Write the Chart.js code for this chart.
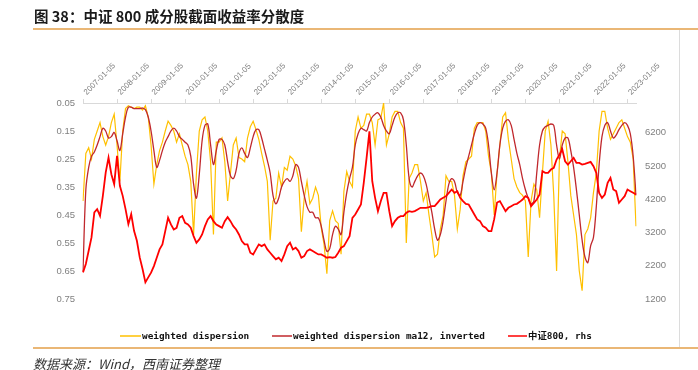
<!doctype html>
<html>
<head>
<meta charset="utf-8" />
<script src="https://cdn.jsdelivr.net/npm/chart.js@4.4.1/dist/chart.umd.min.js"></script>
<style>
  html, body { margin: 0; padding: 0; background: #fff; }
  #wrap { position: relative; width: 698px; height: 370px; }
</style>
</head>
<body>
<div id="wrap"><canvas id="c" width="698" height="370"></canvas></div>
<script>
  // monthly readings, 2007-01 .. 2023-04 (one row per year)
  const dispersion = [
    0.40, 0.23, 0.21, 0.25, 0.18, 0.15, 0.12, 0.17, 0.20, 0.17, 0.12, 0.09,
    0.20, 0.33, 0.15, 0.07, 0.06, 0.065, 0.07, 0.065, 0.065, 0.075, 0.06, 0.10,
    0.20, 0.34, 0.27, 0.22, 0.19, 0.15, 0.115, 0.13, 0.15, 0.19, 0.16, 0.20,
    0.24, 0.27, 0.33, 0.52, 0.30, 0.15, 0.11, 0.10, 0.15, 0.26, 0.52, 0.19,
    0.19, 0.175, 0.26, 0.40, 0.30, 0.20, 0.175, 0.245, 0.25, 0.26, 0.175, 0.135,
    0.115, 0.145, 0.18, 0.23, 0.275, 0.33, 0.54, 0.40, 0.39, 0.30, 0.35, 0.28,
    0.29, 0.24, 0.25, 0.275, 0.32, 0.51, 0.39, 0.33, 0.41, 0.39, 0.35, 0.38,
    0.495, 0.555, 0.66, 0.47, 0.435, 0.47, 0.48, 0.59, 0.365, 0.295, 0.33, 0.35,
    0.15, 0.10, 0.14, 0.13, 0.09, 0.09, 0.12, 0.20, 0.11, 0.105, 0.05, 0.20,
    0.16, 0.10, 0.08, 0.08, 0.12, 0.14, 0.55, 0.32, 0.30, 0.27, 0.27, 0.33,
    0.40, 0.37, 0.45, 0.52, 0.60, 0.59, 0.50, 0.45, 0.31, 0.33, 0.33, 0.38,
    0.50, 0.43, 0.31, 0.26, 0.25, 0.24, 0.14, 0.12, 0.12, 0.12, 0.15, 0.24,
    0.30, 0.45, 0.30, 0.20, 0.10, 0.085, 0.18, 0.25, 0.32, 0.35, 0.37, 0.38,
    0.40, 0.60, 0.40, 0.34, 0.36, 0.46, 0.30, 0.15, 0.115, 0.20, 0.38, 0.65,
    0.25, 0.15, 0.16, 0.26, 0.38, 0.45, 0.52, 0.65, 0.72, 0.52, 0.50, 0.46,
    0.37, 0.30, 0.15, 0.08, 0.08, 0.14, 0.18, 0.16, 0.14, 0.12, 0.11, 0.14,
    0.17, 0.19, 0.25, 0.49
  ];

  const dispersionMa12 = [
    0.65, 0.36, 0.28, 0.24, 0.225, 0.20, 0.17, 0.14, 0.15, 0.175, 0.17, 0.155,
    0.185, 0.22, 0.16, 0.10, 0.065, 0.065, 0.07, 0.07, 0.07, 0.068, 0.074, 0.10,
    0.15, 0.22, 0.28, 0.255, 0.22, 0.19, 0.17, 0.15, 0.14, 0.15, 0.17, 0.18,
    0.19, 0.20, 0.24, 0.34, 0.39, 0.305, 0.185, 0.13, 0.125, 0.20, 0.27, 0.22,
    0.18, 0.18, 0.20, 0.26, 0.31, 0.32, 0.29, 0.23, 0.21, 0.23, 0.245, 0.21,
    0.17, 0.145, 0.145, 0.175, 0.215, 0.255, 0.30, 0.38, 0.41, 0.39, 0.35, 0.33,
    0.32, 0.33, 0.31, 0.27, 0.28, 0.33, 0.38, 0.42, 0.44, 0.44, 0.46, 0.46,
    0.49, 0.54, 0.58, 0.57, 0.52, 0.49, 0.50, 0.52, 0.44, 0.37, 0.32, 0.28,
    0.20, 0.16, 0.14, 0.145, 0.15, 0.12, 0.10, 0.09, 0.085, 0.10, 0.13, 0.15,
    0.16, 0.13, 0.10, 0.085, 0.085, 0.11, 0.20, 0.32, 0.35, 0.33, 0.31, 0.30,
    0.31, 0.34, 0.39, 0.44, 0.50, 0.54, 0.52, 0.47, 0.40, 0.34, 0.32, 0.33,
    0.37, 0.38, 0.33, 0.28, 0.24, 0.20, 0.16, 0.13, 0.12, 0.125, 0.14, 0.20,
    0.30, 0.36, 0.30, 0.20, 0.14, 0.115, 0.11, 0.13, 0.18, 0.23, 0.27, 0.32,
    0.36, 0.39, 0.41, 0.40, 0.30, 0.20, 0.15, 0.135, 0.13, 0.125, 0.13, 0.20,
    0.25, 0.20, 0.175, 0.175, 0.22, 0.28, 0.36, 0.45, 0.54, 0.60, 0.62, 0.56,
    0.53, 0.42, 0.27, 0.17, 0.13, 0.12, 0.15, 0.175, 0.165, 0.145, 0.13, 0.12,
    0.13, 0.16, 0.24, 0.38
  ];

  const csi800 = [
    2000, 2250, 2650, 3050, 3800, 3900, 3700, 4300, 5000, 5450, 4950, 4650,
    5500, 4600, 4300, 3900, 3450, 3750, 3250, 2950, 2450, 2100, 1700, 1850,
    1990, 2190, 2440, 2690, 2840, 3240, 3640, 3440, 3290, 3340, 3640, 3690,
    3490, 3440, 3340, 3090, 2890, 2990, 3140, 3390, 3590, 3690, 3540, 3440,
    3390, 3340, 3540, 3660, 3540, 3390, 3290, 3140, 2940, 2840, 2840, 2590,
    2540, 2690, 2840, 2790, 2840, 2690, 2590, 2490, 2390, 2440, 2340, 2540,
    2790, 2890, 2690, 2740, 2640, 2440, 2490, 2640, 2690, 2640, 2590, 2540,
    2540, 2490, 2440, 2460, 2440, 2460, 2590, 2740, 2790, 2940, 3090, 3640,
    3740, 3890, 4040, 4690, 5440, 6240, 4740, 4240, 3840, 4140, 4390, 4390,
    3840, 3390, 3540, 3640, 3690, 3690, 3790, 3840, 3820, 3840, 3890, 3940,
    3940, 3940, 3960, 3990, 3990, 4090, 4190, 4240, 4290, 4390, 4490, 4390,
    4440, 4240, 4140, 4060, 4040, 3890, 3740, 3590, 3540, 3390, 3340, 3240,
    3240, 3600, 4100, 4140, 3990, 3840, 3940, 3990, 4040, 4060, 4120, 4190,
    4290, 4240, 3990, 4090, 4190, 4340, 5040, 4990, 4990, 5090, 5140, 5390,
    5540, 5700, 5340, 5240, 5340, 5440, 5290, 5290, 5240, 5260, 5290, 5320,
    5190, 4990, 4390, 4240, 4340, 4690, 4840, 4490, 4440, 4090, 4190, 4290,
    4490, 4440, 4390, 4340
  ];

  const leftTicks = [0.05, 0.15, 0.25, 0.35, 0.45, 0.55, 0.65, 0.75];
  const rightTicks = [1200, 2200, 3200, 4200, 5200, 6200];
  const yearTicks = [
    "2007-01-05", "2008-01-05", "2009-01-05", "2010-01-05", "2011-01-05",
    "2012-01-05", "2013-01-05", "2014-01-05", "2015-01-05", "2016-01-05",
    "2017-01-05", "2018-01-05", "2019-01-05", "2020-01-05", "2021-01-05",
    "2022-01-05", "2023-01-05"
  ];

  const labels = csi800.map((_, i) => {
    const y = 2007 + Math.floor(i / 12);
    const m = String((i % 12) + 1).padStart(2, "0");
    return `${y}-${m}-05`;
  });

  const tickColor = "#808080";
  const frame = {
    id: "frame",
    afterDraw(chart) {
      const { ctx } = chart;
      ctx.save();
      // title
      ctx.fillStyle = "#1a1a1a";
      ctx.font = 'bold 14.5px "Noto Sans CJK SC"';
      ctx.textBaseline = "middle";
      ctx.fillText("图 38：中证 800 成分股截面收益率分散度", 34, 16.5);
      ctx.strokeStyle = "#E3A04A";
      ctx.lineWidth = 1.5;
      ctx.beginPath();
      ctx.moveTo(33, 29); ctx.lineTo(698, 29);
      ctx.moveTo(33, 348); ctx.lineTo(698, 348);
      ctx.stroke();
      // right edge of the chart box
      ctx.strokeStyle = "#dcdcdc";
      ctx.lineWidth = 1;
      ctx.beginPath();
      ctx.moveTo(679.5, 30); ctx.lineTo(679.5, 347);
      ctx.stroke();
      // legend
      const items = [[120, 141], [272, 292], [508, 527]];
      ctx.font = 'bold 9.4px "DejaVu Sans Mono", "Noto Sans CJK SC"';
      chart.data.datasets.forEach((ds, i) => {
        const [x0, x1] = items[i];
        ctx.strokeStyle = ds.borderColor;
        ctx.lineWidth = 1.5;
        ctx.beginPath();
        ctx.moveTo(x0, 336); ctx.lineTo(x1, 336);
        ctx.stroke();
        ctx.fillStyle = "#111";
        ctx.fillText(ds.label, x1 + 1, 336.5);
      });
      // source
      ctx.fillStyle = "#333";
      ctx.font = 'italic 13px "Noto Sans CJK SC"';
      ctx.fillText("数据来源：Wind，西南证券整理", 33, 364);
      ctx.restore();
    }
  };

  new Chart(document.getElementById("c"), {
    type: "line",
    data: {
      labels,
      datasets: [
        { label: "weighted dispersion", data: dispersion, yAxisID: "y",
          borderColor: "#FFC000", borderWidth: 1.2, pointRadius: 0, tension: 0, order: 2 },
        { label: "weighted dispersion ma12, inverted", data: dispersionMa12, yAxisID: "y",
          borderColor: "#C0282D", borderWidth: 1.3, pointRadius: 0, tension: 0.35, order: 1 },
        { label: "中证800, rhs", data: csi800, yAxisID: "y1",
          borderColor: "#FF0000", borderWidth: 1.8, pointRadius: 0, tension: 0, order: 0 }
      ]
    },
    options: {
      responsive: false,
      animation: false,
      devicePixelRatio: 1,
      layout: { padding: { top: 0, left: 0, right: 0, bottom: 71 } },
      plugins: { legend: { display: false }, tooltip: { enabled: false } },
      scales: {
        x: {
          type: "category",
          position: "top",
          offset: false,
          grid: { display: true, drawOnChartArea: false, drawTicks: true, tickLength: 4, color: "#d9d9d9" },
          border: { display: true, color: "#d9d9d9" },
          ticks: { autoSkip: false, minRotation: 45, maxRotation: 45, padding: 2, labelOffset: 9,
                   color: tickColor, font: { family: '"Liberation Sans"', size: 8 } },
          afterBuildTicks: s => { s.ticks = s.ticks.filter(t => yearTicks.includes(labels[t.value])); },
          afterFit: s => { s.height = 103; }
        },
        y: {
          position: "left",
          reverse: true,
          min: 0.05,
          max: 0.75,
          grid: { display: false, drawTicks: false },
          border: { display: false },
          ticks: { padding: 8, color: tickColor, font: { family: '"Liberation Sans"', size: 9.5 },
                   callback: v => v.toFixed(2) },
          afterBuildTicks: s => { s.ticks = leftTicks.map(v => ({ value: v })); },
          afterFit: s => { s.width = 83; }
        },
        y1: {
          position: "right",
          min: 1200,
          max: 7090,
          grid: { display: false, drawTicks: false },
          border: { display: false },
          ticks: { padding: 9, color: tickColor, font: { family: '"Liberation Sans"', size: 9.5 },
                   callback: v => String(v) },
          afterBuildTicks: s => { s.ticks = rightTicks.map(v => ({ value: v })); },
          afterFit: s => { s.width = 62; }
        }
      }
    },
    plugins: [frame]
  });
</script>
</body>
</html>
